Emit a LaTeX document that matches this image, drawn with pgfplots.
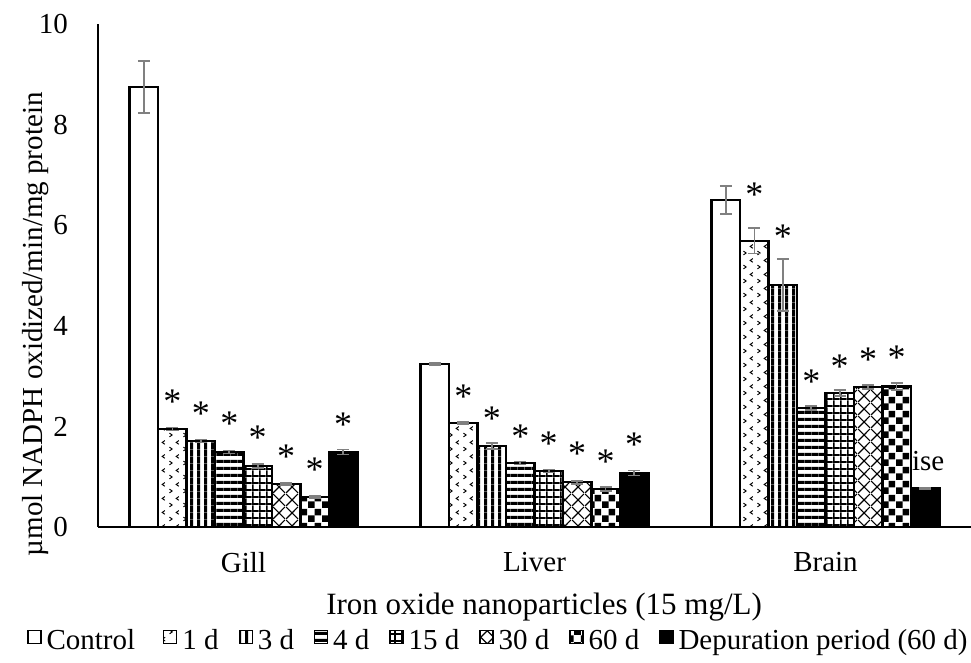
\documentclass[border=0pt]{standalone}
\usepackage{fontspec}
\setmainfont{Liberation Serif}
\usepackage{pgfplots}
\pgfplotsset{compat=1.18}
\usetikzlibrary{patterns.meta}

\tikzdeclarepattern{name=chev, type=uncolored,
  bottom left={(0pt,0pt)}, top right={(7pt,7pt)}, tile size={(7pt,7pt)},
  code={\draw[line width=0.5pt] (0.8pt,0.6pt) -- (2.2pt,1.6pt) -- (0.8pt,2.6pt);
        \draw[line width=0.5pt] (5.8pt,4.1pt) -- (4.4pt,5.1pt) -- (5.8pt,6.1pt);}}
\tikzdeclarepattern{name=vstr, type=uncolored,
  bottom left={(0pt,0pt)}, top right={(3.4pt,3.4pt)}, tile size={(3.4pt,3.4pt)},
  code={\fill (0pt,0pt) rectangle (1.6pt,3.4pt);}}
\tikzdeclarepattern{name=hstr, type=uncolored,
  bottom left={(0pt,0pt)}, top right={(3.4pt,3.4pt)}, tile size={(3.4pt,3.4pt)},
  code={\fill (0pt,0pt) rectangle (3.4pt,1.6pt);}}
\tikzdeclarepattern{name=grd, type=uncolored,
  bottom left={(0pt,0pt)}, top right={(3.4pt,3.4pt)}, tile size={(3.4pt,3.4pt)},
  code={\fill (0pt,0pt) rectangle (0.9pt,3.4pt); \fill (0pt,0pt) rectangle (3.4pt,0.9pt);}}
\tikzdeclarepattern{name=diag, type=uncolored,
  bottom left={(0pt,0pt)}, top right={(6.5pt,6.5pt)}, tile size={(6.5pt,6.5pt)},
  code={\draw[line width=0.6pt] (0pt,0pt) -- (6.5pt,6.5pt); \draw[line width=0.6pt] (0pt,6.5pt) -- (6.5pt,0pt);}}
\tikzdeclarepattern{name=chk, type=uncolored,
  bottom left={(0pt,0pt)}, top right={(7pt,7pt)}, tile size={(7pt,7pt)},
  code={\fill (0pt,0pt) rectangle (3.5pt,3.5pt); \fill (3.5pt,3.5pt) rectangle (7pt,7pt);}}

\begin{document}
\begin{tikzpicture}
\begin{axis}[
  scale only axis, width=436.5pt, height=251.5pt,
  xmin=-0.5, xmax=2.5, ymin=0, ymax=10,
  clip=false,
  axis lines*=left,
  x axis line style={line width=1pt},
  y axis line style={line width=0.7pt},
  xtick={0,1,2}, xticklabels={Gill,Liver,Brain},
  ytick={0,2,4,6,8,10},
  major tick length=0pt,
  tick label style={font=\fontsize{14.5}{17}\selectfont},
  /pgf/number format/assume math mode=true,
  yticklabel style={xshift=-11.5pt},
  xticklabel style={yshift=-9pt},
  xlabel={Iron oxide nanoparticles (15 mg/L)},
  ylabel={µmol NADPH oxidized/min/mg protein},
  every axis x label/.style={at={(axis description cs:0.511,-0.159)}, anchor=center, font=\fontsize{15.5}{18}\selectfont},
  every axis y label/.style={at={(axis description cs:-0.071,0.403)}, anchor=center, rotate=90, font=\fontsize{14.5}{17}\selectfont},
  legend columns=8,
  legend style={at={(axis description cs:0.4576,-0.2266)}, anchor=center, draw=none,
    font=\fontsize{14.5}{17}\selectfont,
    nodes={inner sep=0pt},
    /tikz/every odd column/.style={column sep=2.5pt},
    /tikz/every even column/.style={column sep=10pt},
    /tikz/column 16/.style={column sep=0pt}},
  legend image code/.code={\draw[#1,line width=0.6pt] (0pt,-1.2pt) rectangle (6.5pt,5.3pt);},
  error bars/y dir=both, error bars/y explicit,
  error bars/error bar style={gray, line width=0.8pt},
  error bars/error mark options={rotate=90, gray, mark size=3pt, line width=0.8pt},
  mybar/.style={ybar, bar width=0.0978, bar shift=0pt, draw=black, line width=1.2pt},
]
\addplot[mybar, fill=white] coordinates {(-0.3423,8.75) +- (0,0.52) (0.6577,3.24) +- (0,0.02) (1.6577,6.50) +- (0,0.28)};
\addplot[mybar, pattern=chev] coordinates {(-0.2445,1.95) +- (0,0.03) (0.7555,2.07) +- (0,0.02) (1.7555,5.69) +- (0,0.25)};
\addplot[mybar, pattern=vstr] coordinates {(-0.1467,1.71) +- (0,0.03) (0.8533,1.61) +- (0,0.06) (1.8533,4.81) +- (0,0.52)};
\addplot[mybar, pattern=hstr] coordinates {(-0.0489,1.49) +- (0,0.03) (0.9511,1.27) +- (0,0.03) (1.9511,2.37) +- (0,0.04)};
\addplot[mybar, pattern=grd] coordinates {(0.0489,1.21) +- (0,0.04) (1.0489,1.11) +- (0,0.03) (2.0489,2.66) +- (0,0.06)};
\addplot[mybar, pattern=diag] coordinates {(0.1467,0.85) +- (0,0.02) (1.1467,0.89) +- (0,0.03) (2.1467,2.78) +- (0,0.04)};
\addplot[mybar, pattern=chk] coordinates {(0.2445,0.60) +- (0,0.02) (1.2445,0.75) +- (0,0.04) (2.2445,2.79) +- (0,0.07)};
\addplot[mybar, fill=black] coordinates {(0.3423,1.49) +- (0,0.05) (1.3423,1.07) +- (0,0.05) (2.3423,0.77) +- (0,0.01)};
\legend{Control\rule{4pt}{0pt}, 1 d, 3 d, 4 d, 15 d, 30 d, 60 d, Depuration period (60 d)}
% significance asterisks
\addplot[forget plot, draw=none, mark=none, error bars/y dir=none,
  nodes near coords={*},
  every node near coord/.style={anchor=center, yshift=-2.4pt, font=\fontsize{18}{20}\selectfont}]
  coordinates {
  (-0.2445,2.58) (-0.1467,2.35) (-0.0489,2.15) (0.0489,1.87) (0.1467,1.49) (0.2445,1.23) (0.3423,2.13)
  (0.7555,2.68) (0.8533,2.25) (0.9511,1.89) (1.0489,1.75) (1.1467,1.55) (1.2445,1.39) (1.3423,1.73)
  (1.7555,6.70) (1.8533,5.86) (1.9511,2.98) (2.0489,3.28) (2.1467,3.42) (2.2445,3.46)};
\node[anchor=base west, font=\fontsize{14.5}{17}\selectfont, inner sep=0pt] at (axis cs:2.296,1.13) {ise};
\end{axis}
\pgfresetboundingbox
\path[use as bounding box] ([xshift=-49pt,yshift=-67.5pt]current axis.south west) rectangle ([yshift=12pt]current axis.north east);
\end{tikzpicture}
\end{document}
